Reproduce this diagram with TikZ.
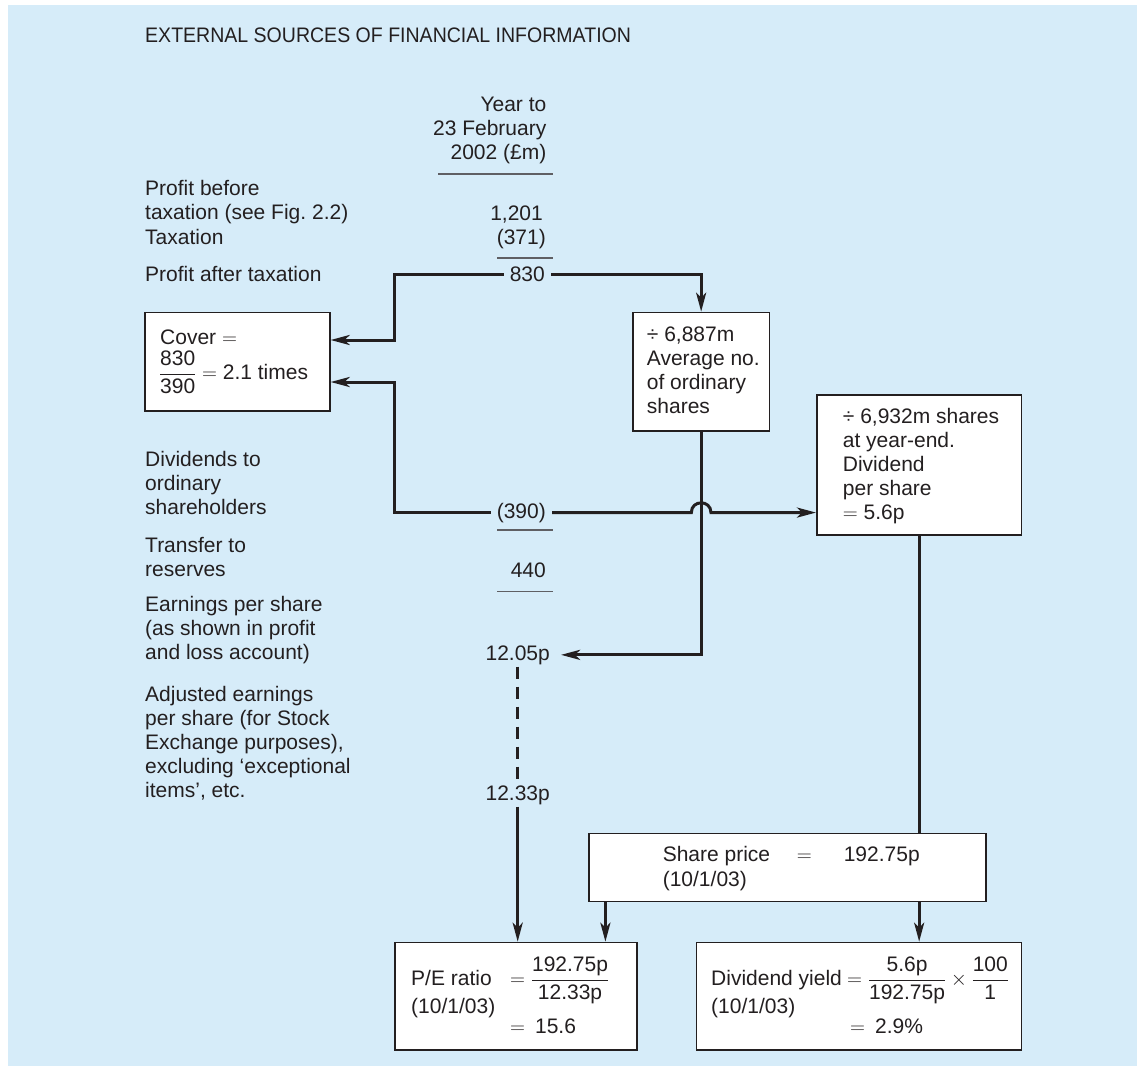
\documentclass[tikz,border=0pt]{standalone}
\usepackage{amsmath}
\usepackage{fontspec}
\setmainfont{Liberation Sans}
\usetikzlibrary{arrows.meta}
\definecolor{panel}{RGB}{214,236,249}
\definecolor{ink}{RGB}{35,31,32}
\definecolor{rulegray}{RGB}{95,95,100}
\newcommand{\bodyfont}{\fontsize{21}{24}\selectfont}
\newcommand{\fr}[2]{\dfrac{\mbox{#1}}{\mbox{#2}}}

\begin{document}
\begin{tikzpicture}[x=1pt,y=-1pt,
  every node/.style={inner sep=0pt, text=ink, font=\bodyfont},
  lbl/.style={anchor=north west, align=left, execute at begin node=\strut},
  rlbl/.style={anchor=north east, align=right, execute at begin node=\strut},
  num/.style={anchor=base east},
  txt/.style={anchor=base west},
  box/.style={draw=ink, line width=1.6pt, fill=white, anchor=north west},
  conn/.style={draw=ink, line width=3pt},
  arr/.style={conn, -{Stealth[length=19pt,width=10pt,inset=5pt]}},
  sumrule/.style={draw=rulegray, line width=1.4pt},
]
\useasboundingbox (0,0) rectangle (1137,1066);
\fill[panel] (8,5) rectangle (1137,1066);

% heading
\node[txt] (title) at (145,42.7) {\scalebox{0.93}[1]{EXTERNAL SOURCES OF FINANCIAL INFORMATION}};
\node[rlbl] (hdr) at (546.5,96.5) {Year to\\23 February\\2002 (£m)};
\draw[sumrule] (438,174) -- (553,174);

% row labels
\node[lbl] (pbt) at (145,179.9) {Profit before\\taxation (see Fig.~2.2)};
\node[txt] (tax) at (145,244.3) {Taxation};
\node[txt] (pat) at (145,281.7) {Profit after taxation};
\node[lbl] (divl) at (145,451.2) {Dividends to\\ordinary\\shareholders};
\node[lbl] (trl) at (145,537.2) {Transfer to\\reserves};
\node[lbl] (epsl) at (145,596.2) {Earnings per share\\(as shown in profit\\and loss account)};
\node[lbl] (adjl) at (145,686.2) {Adjusted earnings\\per share (for Stock\\Exchange purposes),\\excluding ‘exceptional\\items’, etc.};

% figures column
\node[num] (v1201) at (543,220) {1,201};
\node[num] (v371) at (546,244.3) {(371)};
\draw[sumrule] (497,258) -- (553,258);
\node[num, inner xsep=6pt] (v830) at (551,281.7) {830};
\node[num, inner xsep=6pt] (v390) at (552,518) {(390)};
\draw[sumrule] (497,530) -- (553,530);
\node[num] (v440) at (546,577) {440};
\draw[sumrule] (497,591.7) -- (553,591.7);
\node[num, inner xsep=11pt] (eps1) at (561,660) {12.05p};
\node[num, inner xsep=11pt] (eps2) at (561,800) {12.33p};

% boxes
\node[box, minimum width=184.7pt, minimum height=98.3pt] (cover) at (144.3,311.7) {};
\node[box, minimum width=136.7pt, minimum height=118.3pt] (avg) at (632,311.7) {};
\node[box, minimum width=204.7pt, minimum height=140pt] (dps) at (816,394.3) {};
\node[box, minimum width=397pt, minimum height=68pt] (price) at (588,832.7) {};
\node[box, minimum width=241.7pt, minimum height=107.6pt] (pe) at (394.3,941.7) {};
\node[box, minimum width=325pt, minimum height=107.6pt] (dy) at (695.6,941.7) {};

% box contents
\node[txt] (coverA) at (160,344) {Cover $=$};
\node[txt] (coverB) at (158.8,379.5) {$\fr{830}{390} = \mbox{2.1 times}$};
\node[lbl] (avgT) at (646.7,326.2) {÷ 6,887m\\Average no.\\of ordinary\\shares};
\node[lbl] (dpsT) at (842.7,408.2) {÷ 6,932m shares\\at year-end.\\Dividend\\per share\\$=$ 5.6p};
\node[txt] (priceA) at (662.6,861.7) {\makebox[134pt][l]{Share price}\makebox[47pt][l]{$=$}192.75p};
\node[txt] (priceB) at (662.6,886.7) {(10/1/03)};
\node[txt] (peA) at (411,985.7) {\makebox[99pt][l]{P/E ratio}$=\fr{192.75p}{12.33p}$};
\node[txt] (peB) at (411,1013) {(10/1/03)};
\node[txt] (peC) at (510,1033) {$=$\hspace{10pt}15.6};
\node[txt] (dyA) at (711,985.7) {\makebox[136pt][l]{Dividend yield}$=\fr{5.6p}{192.75p}\times\fr{100}{1}$};
\node[txt] (dyB) at (711,1013) {(10/1/03)};
\node[txt] (dyC) at (850,1033) {$=$\hspace{10pt}2.9\%};

% connectors
\coordinate (k1) at (394,340);
\coordinate (k2) at (394,382);
\draw[arr] (v830.west) -| (k1) -- (k1 -| cover.east);
\draw[arr] (v830.east) -| (avg.north);
\draw[arr] (v390.west) -| (k2) -- (k2 -| cover.east);
\coordinate (hop) at (v390.east -| avg.south);
\draw[arr] (v390.east) -- ([xshift=-9.8pt]hop)
  .. controls ([xshift=-9.8pt,yshift=13pt]hop) and ([xshift=9.8pt,yshift=13pt]hop) .. ([xshift=9.8pt]hop)
  -- (hop -| dps.west);
\draw[arr] (avg.south) |- (eps1.east);
\draw[conn, dash pattern=on 12pt off 8pt] ([yshift=-2pt]eps1.south) -- ([yshift=5pt]eps2.north);
\coordinate (e2s) at ([yshift=-2pt]eps2.south);
\draw[arr] (e2s) -- (e2s |- pe.north);
\draw[conn] (dps.south) -- (dps.south |- price.north);
\coordinate (pL) at ([xshift=17.4pt]price.south west);
\draw[arr] (pL) -- (pL |- pe.north);
\draw[arr] (dps.south |- price.south) -- (dps.south |- dy.north);
\end{tikzpicture}
\end{document}
